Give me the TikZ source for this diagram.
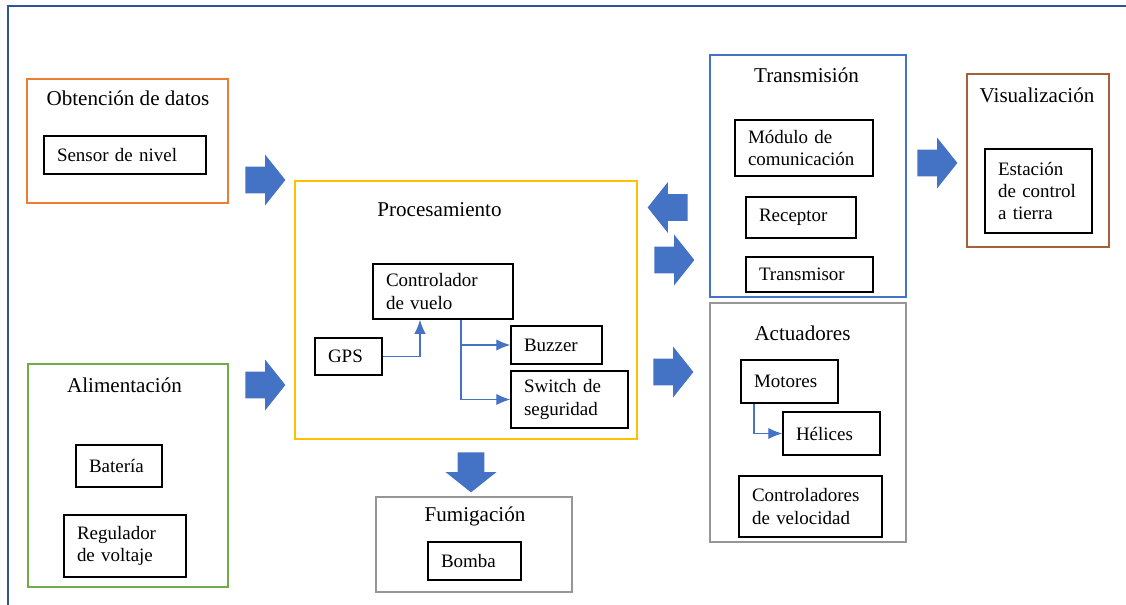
\documentclass[tikz,border=0pt]{standalone}
\usepackage{fontspec}
\setmainfont{Liberation Serif}
\usepackage{xcolor}
\usetikzlibrary{shapes,arrows.meta,positioning,calc}
\definecolor{framedark}{RGB}{47,85,151}
\definecolor{officeblue}{RGB}{68,114,196}
\definecolor{datosorange}{RGB}{237,125,49}
\definecolor{procyellow}{RGB}{255,192,0}
\definecolor{alimgreen}{RGB}{112,173,71}
\definecolor{visubrown}{RGB}{165,98,56}
\definecolor{boxgray}{RGB}{150,150,150}

\tikzset{
  stage/.style={draw=#1, line width=0.7pt, inner sep=0pt},
  stagetitle/.style={font=\fontsize{12}{14}\selectfont, inner sep=0pt},
  part/.style={draw=black, line width=0.8pt, inner xsep=0.26cm, inner ysep=0pt, align=left, font=\fontsize{10.8}{12.8}\selectfont},
  bigarrow/.style={single arrow, fill=officeblue, anchor=tail, inner sep=0pt, inner ysep=0.26cm, minimum height=0.8cm, single arrow head extend=0.24cm, single arrow tip angle=103},
  link/.style={officeblue, line width=0.8pt, -{Latex[length=8pt,width=6.5pt]}}
}

\begin{document}
\begin{tikzpicture}[x=0.02cm, y=-0.02cm]
    \useasboundingbox (0,0) rectangle (1126,605);
    % marco exterior
    \draw[framedark, line width=1.2pt] (8,605) -- (8,6) -- (1126,6);

    % Obtencion de datos
    \node[stage=datosorange, minimum width=4.02cm, minimum height=2.48cm] (datos) at (127.5,141) {};
    \node[stagetitle] (datosT) at (128,98) {Obtención de datos};
    \node[part, text width=2.72cm, minimum height=0.76cm] (sensor) at (125,155) {Sensor de nivel};

    % Alimentacion
    \node[stage=alimgreen, minimum width=4.0cm, minimum height=4.46cm] (alim) at (128,475.5) {};
    \node[stagetitle] (alimT) at (124.5,385) {Alimentación};
    \node[part, text width=1.2cm, minimum height=0.84cm] (bateria) at (119,466) {Batería};
    \node[part, text width=1.92cm, minimum height=1.24cm] (regulador) at (125,546) {Regulador\\de voltaje};

    % Procesamiento
    \node[stage=procyellow, minimum width=6.84cm, minimum height=5.16cm] (proc) at (466,310) {};
    \node[stagetitle] (procT) at (439.5,210) {Procesamiento};
    \node[part, text width=2.28cm, minimum height=1.1cm] (ctrl) at (443,291.5) {Controlador\\de vuelo};
    \node[part, text width=0.82cm, minimum height=0.74cm] (gps) at (348.5,356.5) {GPS};
    \node[part, text width=1.3cm, minimum height=0.76cm] (buzzer) at (556.5,345) {Buzzer};
    \node[part, text width=1.82cm, minimum height=1.14cm] (switch) at (569.5,399.5) {Switch de\\seguridad};
    \draw[link] (gps.east) -| ([xshift=-0.46cm]ctrl.south);
    \draw[link] ([xshift=0.36cm]ctrl.south) |- (buzzer.west);
    \draw[link] ([xshift=0.36cm]ctrl.south) |- (switch.west);

    % Fumigacion
    \node[stage=boxgray, minimum width=3.92cm, minimum height=1.9cm] (fumi) at (474,544.5) {};
    \node[stagetitle] (fumiT) at (475,516) {Fumigación};
    \node[part, text width=1.34cm, minimum height=0.76cm] (bomba) at (474.5,561) {Bomba};

    % Transmision
    \node[stage=officeblue, minimum width=3.92cm, minimum height=4.84cm] (trans) at (808,176) {};
    \node[stagetitle] (transT) at (806.5,75) {Transmisión};
    \node[part, text width=2.24cm, minimum height=1.12cm] (modulo) at (804,148) {Módulo de\\comunicación};
    \node[part, text width=1.68cm, minimum height=0.82cm] (receptor) at (801,217.5) {Receptor};
    \node[part, text width=2.02cm, minimum height=0.7cm] (transmisor) at (809.5,274.5) {Transmisor};

    % Visualizacion
    \node[stage=visubrown, minimum width=2.84cm, minimum height=3.46cm] (visu) at (1038,160.5) {};
    \node[stagetitle] (visuT) at (1037,95) {Visualización};
    \node[part, text width=1.62cm, minimum height=1.68cm] (estacion) at (1038.5,191) {Estación\\de control\\a tierra};

    % Actuadores
    \node[stage=boxgray, minimum width=3.92cm, minimum height=4.78cm] (actu) at (808,422.5) {};
    \node[stagetitle] (actuT) at (802.5,333) {Actuadores};
    \node[part, text width=1.42cm, minimum height=0.86cm] (motores) at (789.5,381.5) {Motores};
    \node[part, text width=1.42cm, minimum height=0.86cm] (helices) at (831.5,433.5) {Hélices};
    \node[part, text width=2.34cm, minimum height=1.22cm] (velocidad) at (810.5,506.5) {Controladores\\de velocidad};
    \draw[link] ([xshift=-0.71cm]motores.south) |- (helices.west);

    % flechas de bloque
    \node[bigarrow] (fDatos) at (245,180) {};
    \node[bigarrow] (fAlim) at (245,385) {};
    \node[bigarrow, rotate=180] (fRecibe) at (688,207.5) {};
    \node[bigarrow] (fEnvia) at (654,260) {};
    \node[bigarrow] (fVisu) at (917,163) {};
    \node[bigarrow] (fActu) at (653,372) {};
    \node[bigarrow, rotate=-90] (fFumi) at (471,452) {};
\end{tikzpicture}
\end{document}
